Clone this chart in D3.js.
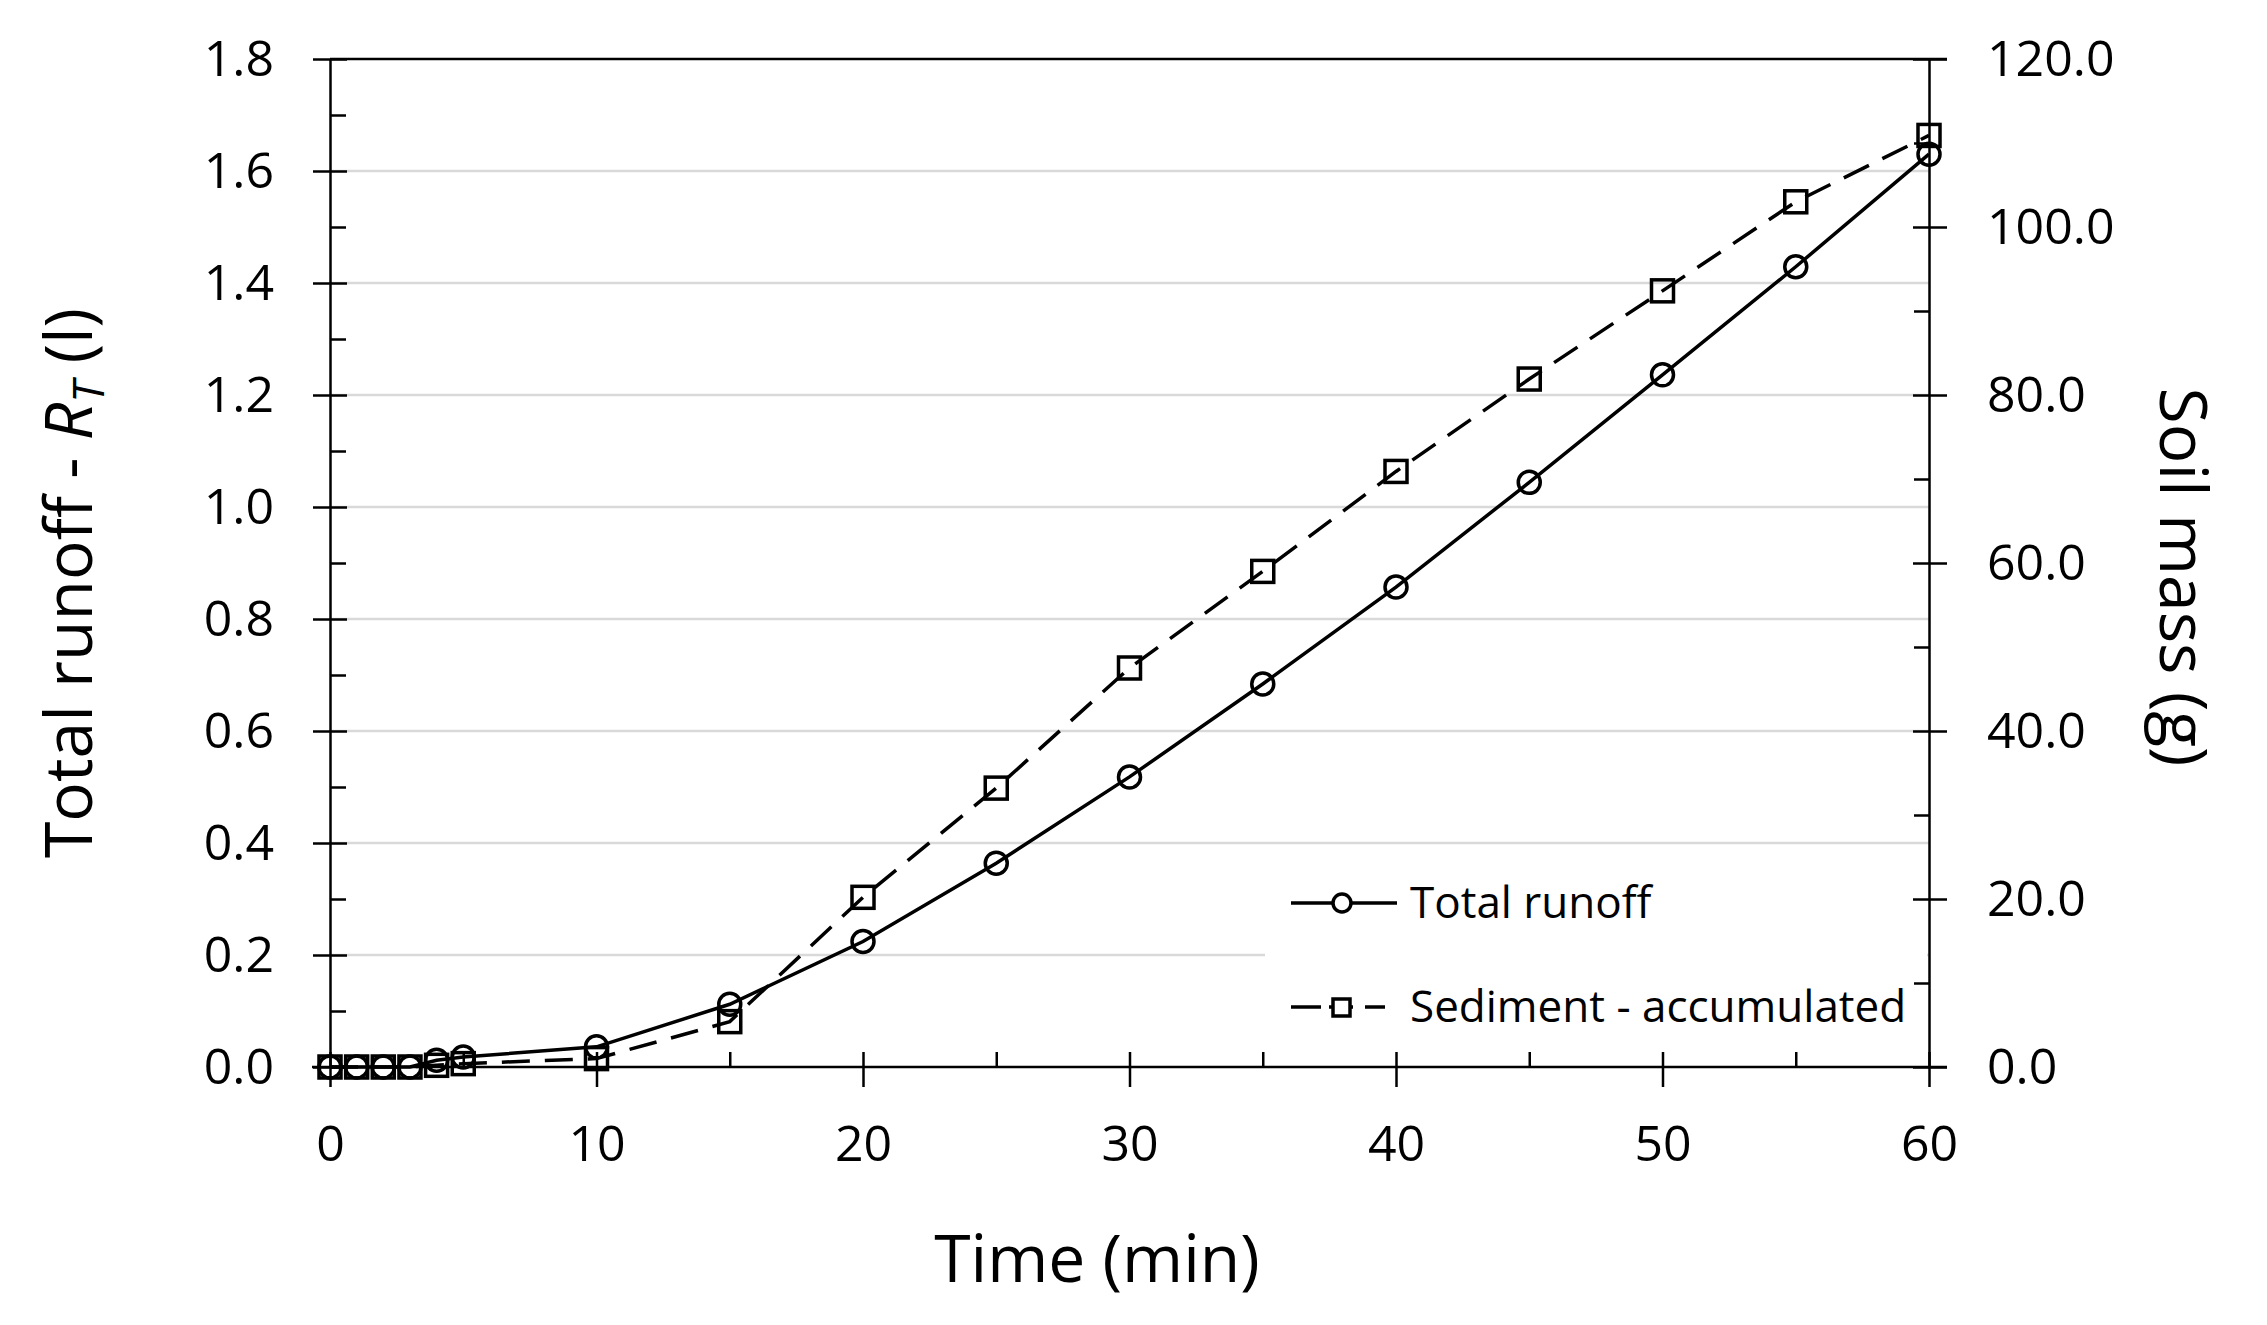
<!DOCTYPE html>
<html><head><meta charset="utf-8">
<script src="https://cdn.jsdelivr.net/npm/d3@7"></script>
<style>
body{margin:0;background:#fff}
text{font-family:"Open Sans",sans-serif;fill:#000}
</style>
</head><body>
<svg id="c" width="2267" height="1325"></svg>
<script>
// ---- data ----
const timeMin      = [0, 1, 2, 3, 4, 5, 10, 15, 20, 25, 30, 35, 40, 45, 50, 55, 60];
const totalRunoff  = [0, 0, 0, 0, 0.012, 0.018, 0.036, 0.112, 0.224, 0.364, 0.518, 0.684, 0.857, 1.044, 1.236, 1.429, 1.630];
const sedimentAcc  = [0, 0, 0, 0, 0.2, 0.4, 1.0, 5.4, 20.2, 33.2, 47.5, 59.0, 70.9, 81.9, 92.4, 103.0, 110.9];
const xTickValues     = [0, 10, 20, 30, 40, 50, 60];
const xMinorTicks     = [5, 15, 25, 35, 45, 55];
const leftTickValues  = [0, 0.2, 0.4, 0.6, 0.8, 1.0, 1.2, 1.4, 1.6, 1.8];
const leftMinorTicks  = [0.1, 0.3, 0.5, 0.7, 0.9, 1.1, 1.3, 1.5, 1.7];
const rightTickValues = [0, 20, 40, 60, 80, 100, 120];
const rightMinorTicks = [10, 30, 50, 70, 90, 110];
const legendLabels = ["Total runoff", "Sediment - accumulated"];
const xTitle = "Time (min)";
const rightTitle = "Soil mass (g)";

// ---- layout ----
const L = 330, R = 1929, T = 59, B = 1067;
const svg = d3.select("#c");
const x  = d3.scaleLinear().domain([0, 60]).range([L, R]);
const yL = d3.scaleLinear().domain([0, 1.8]).range([B, T]);
const yR = d3.scaleLinear().domain([0, 120]).range([B, T]);
const AX = "#000", AXW = 2.5, FS = 50;

// gridlines
svg.append("g").selectAll("line")
  .data(leftTickValues.filter(v => v > 0 && v < 1.8)).join("line")
  .attr("x1", L).attr("x2", R)
  .attr("y1", d => yL(d)).attr("y2", d => yL(d))
  .attr("stroke", "#d9d9d9").attr("stroke-width", 2.5);

// legend background (covers gridline)
svg.append("rect").attr("x", 1265).attr("y", 862).attr("width", R - 1265 - 2).attr("height", 196).attr("fill", "#fff");

// top border
svg.append("line").attr("x1", L).attr("x2", R + 18).attr("y1", T).attr("y2", T)
  .attr("stroke", AX).attr("stroke-width", AXW);

function styleAxis(g) {
  g.selectAll("path.domain").attr("stroke", AX).attr("stroke-width", AXW);
  g.selectAll(".tick line").attr("stroke", AX).attr("stroke-width", AXW);
  g.selectAll("text").attr("font-size", FS).attr("font-family", '"Open Sans",sans-serif').attr("fill", "#000");
}

// left axis
const gl = svg.append("g").attr("transform", `translate(${L},0)`)
  .call(d3.axisLeft(yL).tickValues(leftTickValues).tickFormat(d3.format(".1f")).tickSize(17).tickSizeOuter(0).tickPadding(39));
gl.selectAll(".tick line").attr("x1", 17);
styleAxis(gl);
const glm = svg.append("g").attr("transform", `translate(${L},0)`)
  .call(d3.axisLeft(yL).tickValues(leftMinorTicks).tickFormat("").tickSize(-16).tickSizeOuter(0));
glm.select("path.domain").remove();
styleAxis(glm);

// right axis
const gr = svg.append("g").attr("transform", `translate(${R},0)`)
  .call(d3.axisRight(yR).tickValues(rightTickValues).tickFormat(d3.format(".1f")).tickSize(18).tickSizeOuter(0).tickPadding(40));
gr.selectAll(".tick line").attr("x1", -16);
styleAxis(gr);
const grm = svg.append("g").attr("transform", `translate(${R},0)`)
  .call(d3.axisRight(yR).tickValues(rightMinorTicks).tickFormat("").tickSize(-15).tickSizeOuter(0));
grm.select("path.domain").remove();
styleAxis(grm);

// bottom axis
const gb = svg.append("g").attr("transform", `translate(0,${B})`)
  .call(d3.axisBottom(x).tickValues(xTickValues).tickFormat(d3.format("d")).tickSize(20).tickSizeOuter(0).tickPadding(38));
gb.selectAll(".tick line").attr("y1", -15);
styleAxis(gb);
gb.select("path.domain").attr("d", `M${L - 18},0H${R + 18}`);
const gbm = svg.append("g").attr("transform", `translate(0,${B})`)
  .call(d3.axisBottom(x).tickValues(xMinorTicks).tickFormat("").tickSize(-15).tickSizeOuter(0));
gbm.select("path.domain").remove();
styleAxis(gbm);

// series
const runoffPts = timeMin.map((t, i) => [t, totalRunoff[i]]);
const sedPts = timeMin.map((t, i) => [t, sedimentAcc[i]]);

svg.append("path").datum(sedPts)
  .attr("d", d3.line().x(d => x(d[0])).y(d => yR(d[1])))
  .attr("fill", "none").attr("stroke", "#000").attr("stroke-width", 3.5)
  .attr("stroke-dasharray", "28,15");
svg.append("path").datum(runoffPts)
  .attr("d", d3.line().x(d => x(d[0])).y(d => yL(d[1])))
  .attr("fill", "none").attr("stroke", "#000").attr("stroke-width", 3.5);

const S = 22;
svg.append("g").selectAll("rect").data(sedPts).join("rect")
  .attr("x", d => x(d[0]) - S / 2).attr("y", d => yR(d[1]) - S / 2)
  .attr("width", S).attr("height", S)
  .attr("fill", "none").attr("stroke", "#000").attr("stroke-width", 3.5);
svg.append("g").selectAll("circle").data(runoffPts).join("circle")
  .attr("cx", d => x(d[0])).attr("cy", d => yL(d[1])).attr("r", 11)
  .attr("fill", "none").attr("stroke", "#000").attr("stroke-width", 3.5);

// legend
const lg = svg.append("g");
lg.append("line").attr("x1", 1291).attr("x2", 1397).attr("y1", 903).attr("y2", 903)
  .attr("stroke", "#000").attr("stroke-width", 3.5);
lg.append("circle").attr("cx", 1342).attr("cy", 903).attr("r", 9)
  .attr("fill", "#fff").attr("stroke", "#000").attr("stroke-width", 3.5);
lg.append("text").attr("x", 1410).attr("y", 918).attr("font-size", 44).text(legendLabels[0]);
lg.append("line").attr("x1", 1291).attr("x2", 1397).attr("y1", 1007).attr("y2", 1007)
  .attr("stroke", "#000").attr("stroke-width", 3.5).attr("stroke-dasharray", "30,8,24,12,20");
lg.append("rect").attr("x", 1333).attr("y", 999).attr("width", 17).attr("height", 17)
  .attr("fill", "#fff").attr("stroke", "#000").attr("stroke-width", 3.5);
lg.append("text").attr("x", 1410).attr("y", 1022).attr("font-size", 44).text(legendLabels[1]);

// axis titles
svg.append("text").attr("x", 1097).attr("y", 1282).attr("text-anchor", "middle")
  .attr("font-size", 66).text(xTitle);

const lt = svg.append("text").attr("transform", "translate(92,583) rotate(-90)")
  .attr("text-anchor", "middle").attr("font-size", 66);
lt.append("tspan").text("Total runoff - ");
lt.append("tspan").attr("font-style", "italic").text("R");
lt.append("tspan").attr("font-style", "italic").attr("font-size", 44).attr("dy", 12).text("T");
lt.append("tspan").attr("dy", -12).text(" (l)");

svg.append("text").attr("transform", "translate(2160,577) rotate(90)")
  .attr("text-anchor", "middle").attr("font-size", 66).text(rightTitle);
</script>
</body></html>
